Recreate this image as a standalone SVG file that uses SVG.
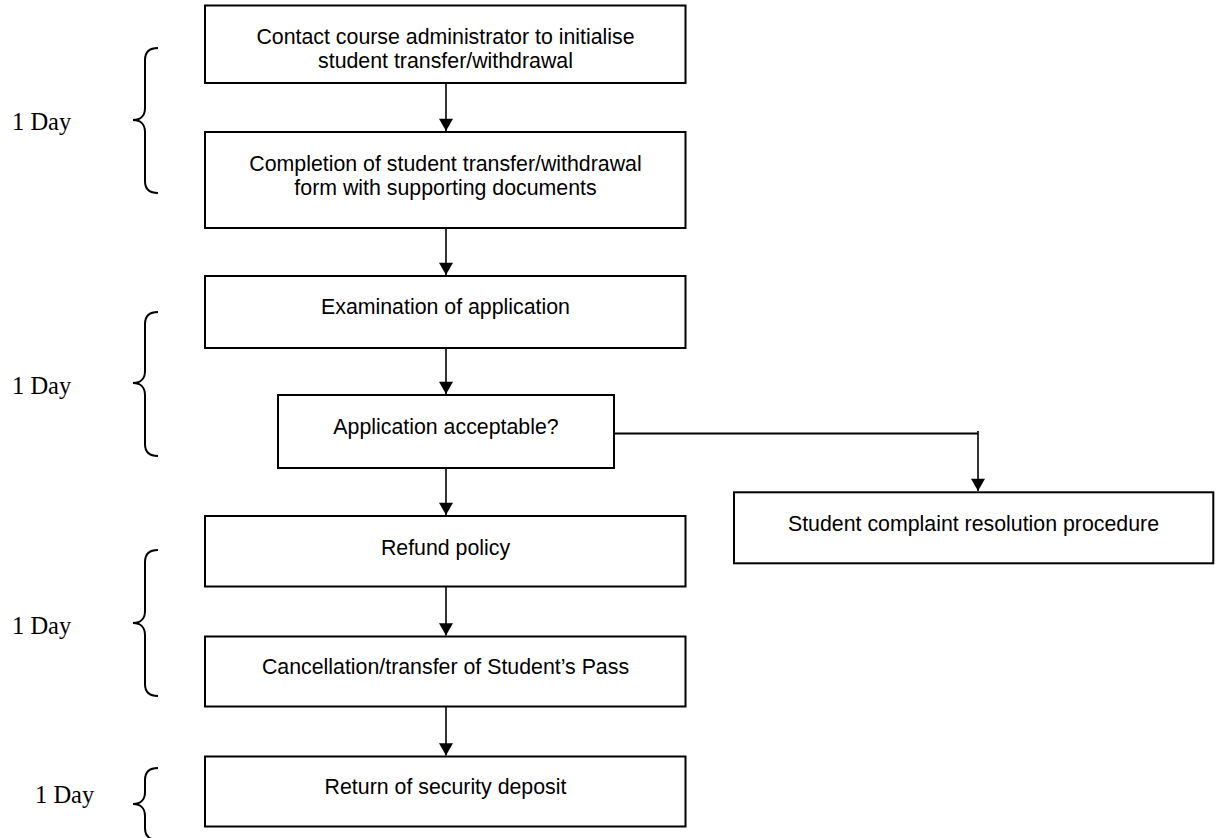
<svg xmlns="http://www.w3.org/2000/svg" width="1219" height="838" viewBox="0 0 1219 838">
<style>
.box{fill:#fff;stroke:#000;stroke-width:2}
.t{font-family:"Liberation Sans",Arial,sans-serif;font-size:21.33px;fill:#000;text-anchor:middle}
.day{font-family:"Liberation Serif","Times New Roman",serif;font-size:24.5px;fill:#000}
.ln{stroke:#000;stroke-width:1.6;fill:none}
.br{stroke:#000;stroke-width:2;fill:none}
</style>
<defs>
<marker id="ah" markerWidth="16" markerHeight="14" refX="14" refY="8" viewBox="0 0 14 16" markerUnits="userSpaceOnUse" orient="auto">
<polygon points="0,0 14,8 0,16" fill="#000"/>
</marker>
</defs>
<rect width="1219" height="838" fill="#fff"/>
<g id="braces">
<path class="br" d="M158,48 C150,48 145,52 145,60 L145,108 C145,116 140,120 133,120 C140,120 145,124 145,132 L145,181 C145,189 150,193 158,193"/>
<path class="br" d="M158,312 C150,312 145,316 145,324 L145,371 C145,379 140,383 133,383 C140,383 145,387 145,395 L145,444 C145,452 150,456 158,456"/>
<path class="br" d="M158,550 C150,550 145,554 145,562 L145,611 C145,619 140,623 133,623 C140,623 145,627 145,635 L145,684 C145,692 150,696 158,696"/>
<path class="br" d="M158,768 C150,768 145,772 145,780 L145,792 C145,800 140,804 133,804 C140,804 145,808 145,816 L145,828 C145,836 150,840 158,840"/>
</g>
<g id="labels">
<text class="day" x="12" y="130">1 Day</text>
<text class="day" x="12" y="394">1 Day</text>
<text class="day" x="12" y="634">1 Day</text>
<text class="day" x="35" y="803">1 Day</text>
</g>
<g id="connectors">
<line class="ln" x1="446" y1="83" x2="446" y2="131" marker-end="url(#ah)"/>
<line class="ln" x1="446" y1="228" x2="446" y2="275" marker-end="url(#ah)"/>
<line class="ln" x1="446" y1="348" x2="446" y2="394" marker-end="url(#ah)"/>
<line class="ln" x1="446" y1="468" x2="446" y2="515" marker-end="url(#ah)"/>
<line class="ln" x1="446" y1="586.5" x2="446" y2="635.5" marker-end="url(#ah)"/>
<line class="ln" x1="446" y1="706.5" x2="446" y2="755.5" marker-end="url(#ah)"/>
<line x1="614" y1="433.5" x2="978" y2="433.5" stroke="#000" stroke-width="2"/>
<line class="ln" x1="978" y1="431" x2="978" y2="491" marker-end="url(#ah)"/>
</g>
<g id="n1">
<rect class="box" x="205" y="5.5" width="480.5" height="77.5"/>
<text class="t" x="445.5" y="44.3">Contact course administrator to initialise</text>
<text class="t" x="445.5" y="68.3">student transfer/withdrawal</text>
</g>
<g id="n2">
<rect class="box" x="205" y="132" width="480.5" height="96"/>
<text class="t" x="445.5" y="170.5">Completion of student transfer/withdrawal</text>
<text class="t" x="445.5" y="194.5">form with supporting documents</text>
</g>
<g id="n3">
<rect class="box" x="205" y="276" width="480.5" height="72"/>
<text class="t" x="445.5" y="314">Examination of application</text>
</g>
<g id="n4">
<rect class="box" x="278" y="395" width="336" height="73"/>
<text class="t" x="446" y="433.5">Application acceptable?</text>
</g>
<g id="n5">
<rect class="box" x="734" y="492.3" width="479.3" height="71"/>
<text class="t" x="973.5" y="530.5">Student complaint resolution procedure</text>
</g>
<g id="n6">
<rect class="box" x="205" y="516" width="480.5" height="70.5"/>
<text class="t" x="445.5" y="554.5">Refund policy</text>
</g>
<g id="n7">
<rect class="box" x="205" y="636.5" width="480.5" height="70"/>
<text class="t" x="445.5" y="673.5">Cancellation/transfer of Student’s Pass</text>
</g>
<g id="n8">
<rect class="box" x="205" y="756.5" width="480.5" height="70"/>
<text class="t" x="445.5" y="793.5">Return of security deposit</text>
</g>
</svg>
